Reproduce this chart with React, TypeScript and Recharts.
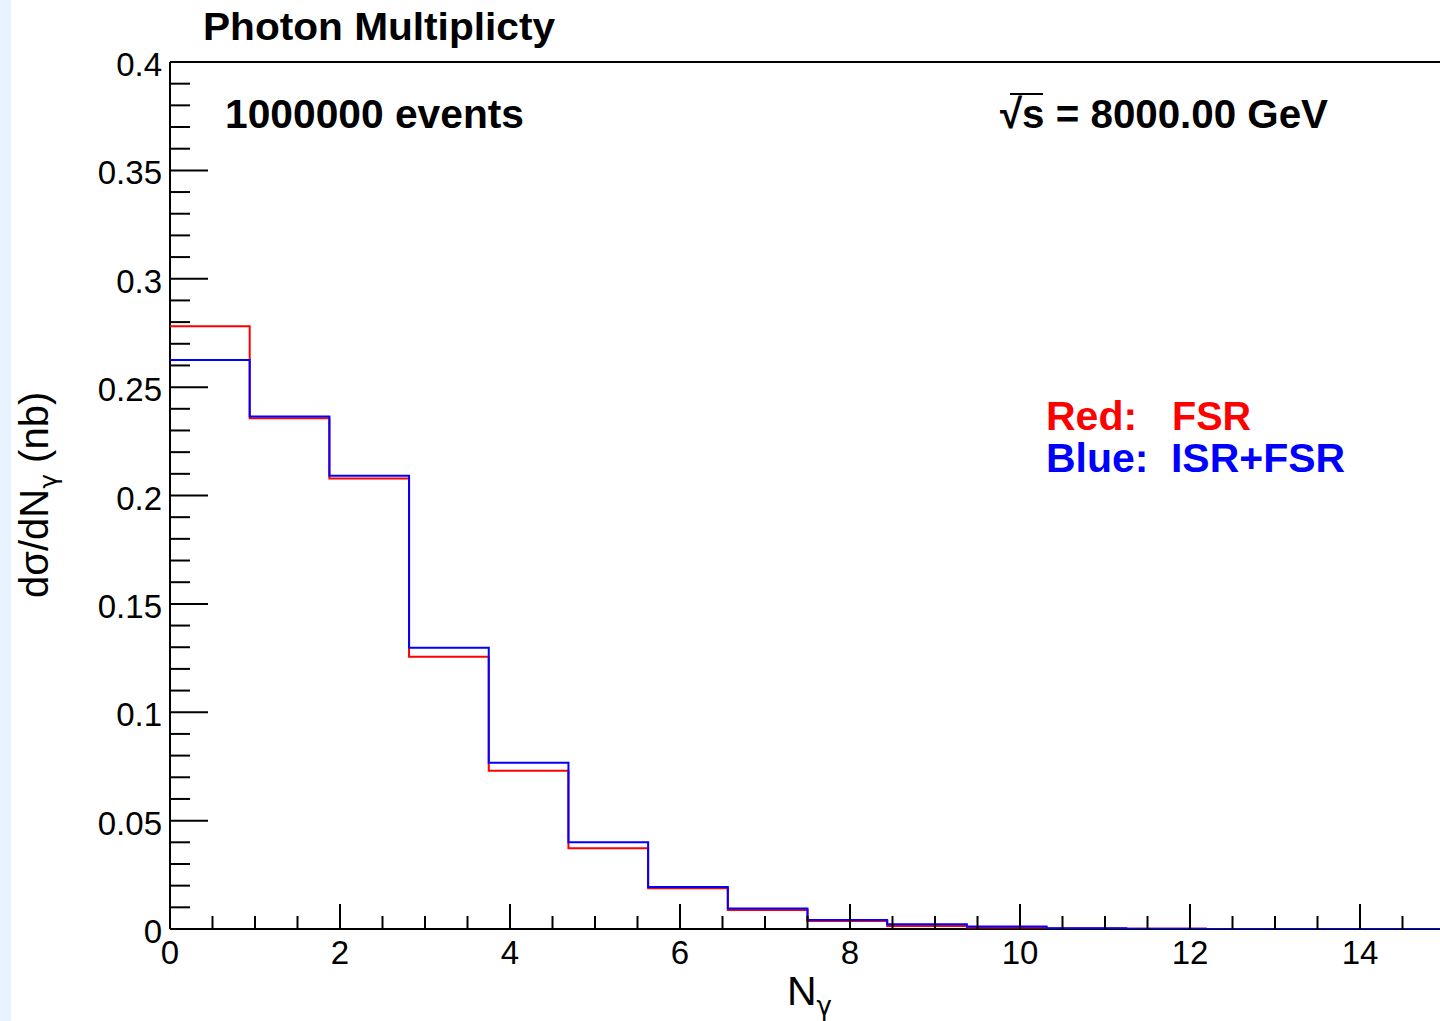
import React from "react";
import { LineChart, Line, XAxis, YAxis, ReferenceLine } from "recharts";

// Bin lower edges (16 bins of width 15/16 on [0, 15]) plus upper edge of last bin
const binEdges = [0, 0.9375, 1.875, 2.8125, 3.75, 4.6875, 5.625, 6.5625, 7.5, 8.4375, 9.375, 10.3125, 11.25, 12.1875, 13.125, 14.0625, 15];
// dσ/dNγ (nb) per bin
const fsrValues = [0.2781, 0.2356, 0.2079, 0.1256, 0.0730, 0.0372, 0.0188, 0.0088, 0.0037, 0.0014, 0.0007, 0.0002, 0.0001, 0.00005, 0.00002, 0.00001];
const isrFsrValues = [0.2625, 0.2364, 0.2091, 0.1298, 0.0767, 0.0400, 0.0194, 0.0095, 0.0042, 0.0022, 0.0011, 0.0003, 0.0001, 0.00005, 0.00002, 0.00001];

const xMajorTicks = [0, 2, 4, 6, 8, 10, 12, 14];
const xMinorStep = 0.5;
const yMajorTicks = [0, 0.05, 0.1, 0.15, 0.2, 0.25, 0.3, 0.35, 0.4];
const yMajorLabels = ["0", "0.05", "0.1", "0.15", "0.2", "0.25", "0.3", "0.35", "0.4"];
const yMinorStep = 0.01;

const xDomain: [number, number] = [0, 15];
const yDomain: [number, number] = [0, 0.4];

const data = binEdges.map((x, i) => ({
  x,
  fsr: fsrValues[Math.min(i, fsrValues.length - 1)],
  isr: isrFsrValues[Math.min(i, isrFsrValues.length - 1)],
}));

const xTicks: number[] = [];
for (let k = 0; k * xMinorStep < 15 - 1e-9; k++) xTicks.push(Math.round(k * xMinorStep * 100) / 100);
const yTicks: number[] = [];
for (let k = 0; k * yMinorStep <= 0.4 + 1e-9; k++) yTicks.push(Math.round(k * yMinorStep * 1000) / 1000);

const FONT = "'Liberation Sans', Arial, Helvetica, sans-serif";
const GREEK = "'DejaVu Sans', sans-serif";

const isMajor = (v: number, list: number[]) => list.some((m) => Math.abs(m - v) < 1e-6);

const XTick = (props: any) => {
  const { x, y, payload } = props;
  const v = payload.value as number;
  const major = isMajor(v, xMajorTicks);
  return (
    <g>
      <line x1={x} x2={x} y1={y} y2={y - (major ? 25 : 13)} stroke="#000" strokeWidth={2} />
      {major && (
        <text x={x} y={y + 35} textAnchor="middle" fontSize={33} fontFamily={FONT} fill="#000">
          {String(v)}
        </text>
      )}
    </g>
  );
};

const YTick = (props: any) => {
  const { x, y, payload } = props;
  const v = payload.value as number;
  const idx = yMajorTicks.findIndex((m) => Math.abs(m - v) < 1e-6);
  const major = idx >= 0;
  return (
    <g>
      <line x1={x} x2={x + (major ? 38 : 20)} y1={y} y2={y} stroke="#000" strokeWidth={2} />
      {major && (
        <text x={x - 8} y={y + 14} textAnchor="end" fontSize={33} fontFamily={FONT} fill="#000">
          {yMajorLabels[idx]}
        </text>
      )}
    </g>
  );
};

const lineZ: any = { zIndex: 900 };

export default function App() {
  return (
    <div style={{ position: "absolute", left: 0, top: 0, width: 1440, height: 1021, overflow: "hidden", background: "#fff" }}>
      <div style={{ position: "absolute", left: 0, top: 0, width: 11, height: 1021, background: "#e8f3fd" }} />
      <div style={{ position: "absolute", left: 0, top: 0 }}>
        <LineChart width={1460} height={1021} data={data} margin={{ top: 62, right: 15, bottom: 0, left: 0 }}>
          <XAxis
            dataKey="x"
            type="number"
            domain={xDomain}
            ticks={xTicks}
            interval={0}
            allowDataOverflow
            height={92}
            tickSize={0}
            tickMargin={0}
            tickLine={false}
            axisLine={{ stroke: "#000", strokeWidth: 2 }}
            tick={<XTick />}
          />
          <YAxis
            type="number"
            domain={yDomain}
            ticks={yTicks}
            interval={0}
            allowDataOverflow
            width={170}
            tickSize={0}
            tickMargin={0}
            tickLine={false}
            axisLine={{ stroke: "#000", strokeWidth: 2 }}
            tick={<YTick />}
          />
          <ReferenceLine y={0.4} stroke="#000" strokeWidth={2} />
          <ReferenceLine x={15} stroke="#000" strokeWidth={2} />
          <Line type="stepAfter" dataKey="fsr" stroke="#ff0000" strokeWidth={2} dot={false} isAnimationActive={false} {...lineZ} />
          <Line type="stepAfter" dataKey="isr" stroke="#0000ff" strokeWidth={2} dot={false} isAnimationActive={false} {...lineZ} />
        </LineChart>
      </div>
      <svg width={1440} height={1021} style={{ position: "absolute", left: 0, top: 0, pointerEvents: "none" }}>
        <text x={203} y={40} fontSize={38} fontWeight="bold" fontFamily={FONT} fill="#000" textLength={352} lengthAdjust="spacingAndGlyphs">
          Photon Multiplicty
        </text>
        <text x={225} y={128} fontSize={41} fontWeight="bold" fontFamily={FONT} fill="#000" textLength={299} lengthAdjust="spacingAndGlyphs">
          1000000 events
        </text>
        <text x={1000} y={128} fontSize={41} fontWeight="bold" fontFamily={FONT} fill="#000" textLength={328} lengthAdjust="spacingAndGlyphs">
          √s = 8000.00 GeV
        </text>
        <line x1={1010} x2={1043} y1={94} y2={94} stroke="#000" strokeWidth={2} />
        <text x={1046} y={430} fontSize={41} fontWeight="bold" fontFamily={FONT} fill="#ff0000">Red:</text>
        <text x={1172} y={430} fontSize={41} fontWeight="bold" fontFamily={FONT} fill="#ff0000" textLength={79} lengthAdjust="spacingAndGlyphs">FSR</text>
        <text x={1046} y={472} fontSize={41} fontWeight="bold" fontFamily={FONT} fill="#0000ff">Blue:</text>
        <text x={1171} y={472} fontSize={41} fontWeight="bold" fontFamily={FONT} fill="#0000ff" textLength={174} lengthAdjust="spacingAndGlyphs">ISR+FSR</text>
        <text x={787} y={1005} fontSize={41} fontFamily={FONT} fill="#000">
          N<tspan dy={10} fontSize={26} fontFamily={GREEK}>γ</tspan>
        </text>
        <text transform="translate(48,598) rotate(-90)" fontSize={40} fontFamily={FONT} fill="#000">
          dσ/dN<tspan dy={9} fontSize={25} fontFamily={GREEK}>γ</tspan>
          <tspan dy={-9}>{"  (nb)"}</tspan>
        </text>
      </svg>
    </div>
  );
}
